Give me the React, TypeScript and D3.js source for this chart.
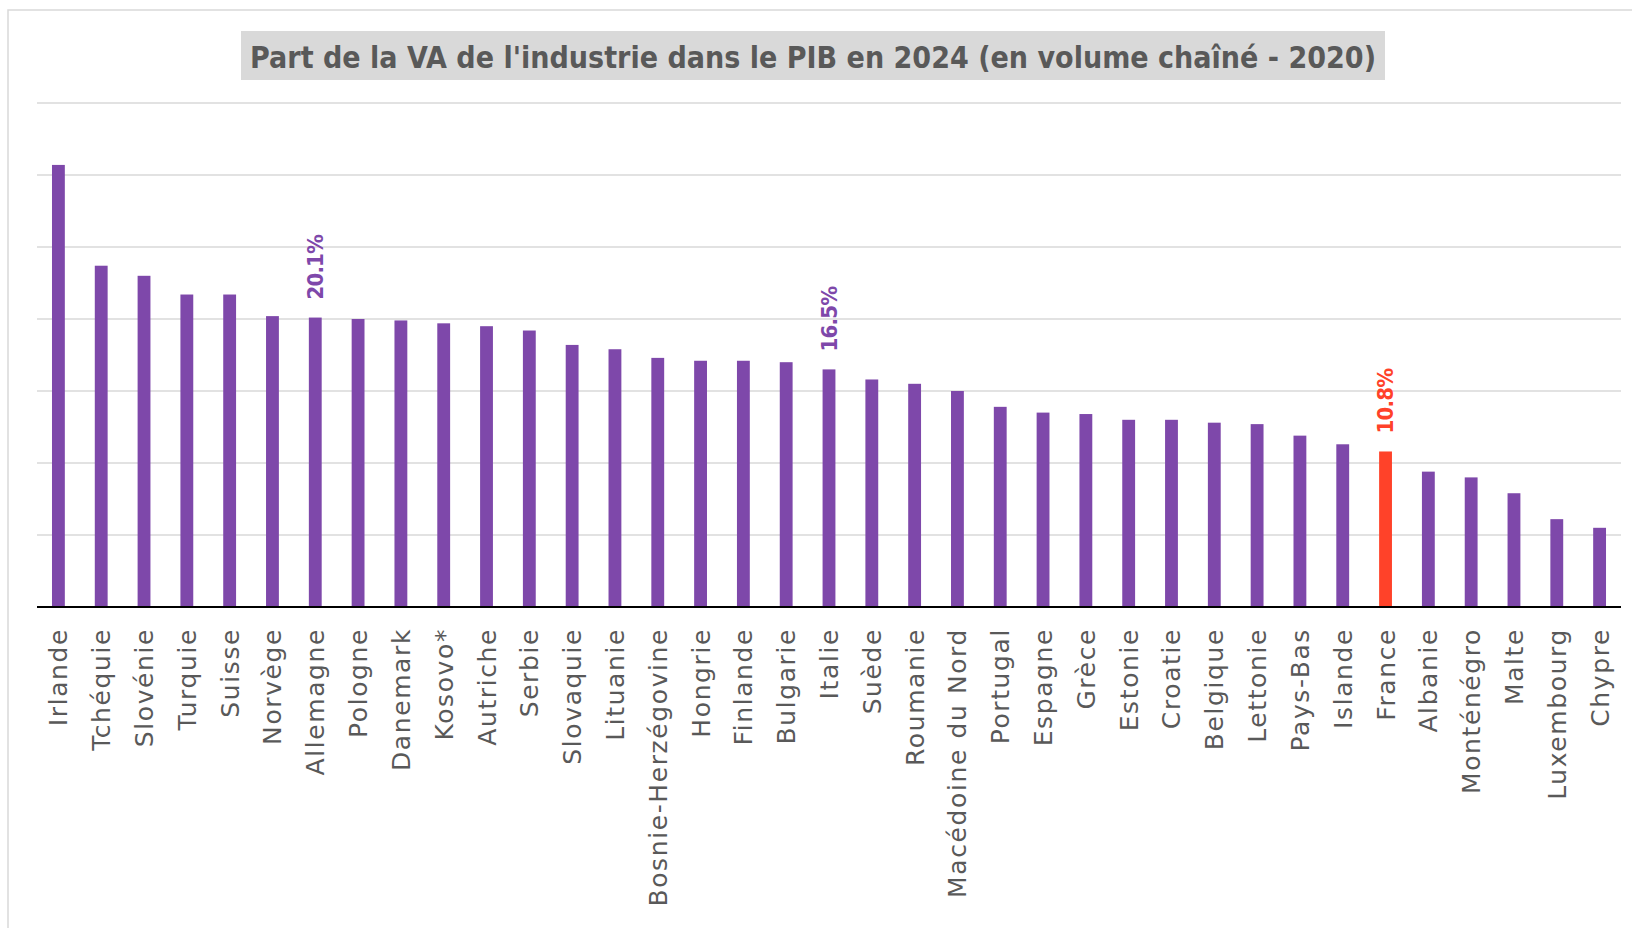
import React, { useEffect, useRef } from 'react';
import * as d3 from 'd3';

const countries = [
  'Irlande', 'Tchéquie', 'Slovénie', 'Turquie', 'Suisse', 'Norvège', 'Allemagne',
  'Pologne', 'Danemark', 'Kosovo*', 'Autriche', 'Serbie', 'Slovaquie', 'Lituanie',
  'Bosnie-Herzégovine', 'Hongrie', 'Finlande', 'Bulgarie', 'Italie', 'Suède',
  'Roumanie', 'Macédoine du Nord', 'Portugal', 'Espagne', 'Grèce', 'Estonie',
  'Croatie', 'Belgique', 'Lettonie', 'Pays-Bas', 'Islande', 'France', 'Albanie',
  'Monténégro', 'Malte', 'Luxembourg', 'Chypre',
];

const shares = [
  30.7, 23.7, 23.0, 21.7, 21.7, 20.2, 20.1,
  20.0, 19.9, 19.7, 19.5, 19.2, 18.2, 17.9,
  17.3, 17.1, 17.1, 17.0, 16.5, 15.8,
  15.5, 15.0, 13.9, 13.5, 13.4, 13.0,
  13.0, 12.8, 12.7, 11.9, 11.3, 10.8, 9.4,
  9.0, 7.9, 6.1, 5.5,
];

// countries whose value is written above the bar
const labelled = ['Allemagne', 'Italie', 'France'];
const highlight = 'France';

const yTicks = [0, 5, 10, 15, 20, 25, 30, 35];

const title = "Part de la VA de l'industrie dans le PIB en 2024 (en volume chaîné - 2020)";

const W = 1632;
const H = 928;
const PURPLE = '#7E48AA';
const RED = '#FF4229';
const GREY = '#595959';
const GRID = '#D9D9D9';
const FONT = "'DejaVu Sans', sans-serif";

export default function App() {
  const svgRef = useRef<SVGSVGElement>(null);

  useEffect(() => {
    const svg = d3.select(svgRef.current);
    svg.selectAll('*').remove();

    const margin = { top: 103, right: 11, bottom: 321, left: 37 };
    const innerWidth = W - margin.left - margin.right;
    const innerHeight = H - margin.top - margin.bottom;

    svg.append('rect')
      .attr('width', W).attr('height', H).attr('fill', 'white');

    // chart frame (runs off the right and bottom edges)
    svg.append('rect')
      .attr('x', 8).attr('y', 10)
      .attr('width', W + 20).attr('height', H + 20)
      .attr('fill', 'white')
      .attr('stroke', GRID)
      .attr('stroke-width', 1.5);

    // title
    const titleBox = { x: 241, y: 31, w: 1144, h: 49 };
    svg.append('rect')
      .attr('x', titleBox.x).attr('y', titleBox.y)
      .attr('width', titleBox.w).attr('height', titleBox.h)
      .attr('fill', GRID);
    svg.append('text')
      .attr('x', titleBox.x + titleBox.w / 2)
      .attr('y', 68)
      .attr('text-anchor', 'middle')
      .attr('textLength', 1126)
      .attr('lengthAdjust', 'spacingAndGlyphs')
      .style('font-family', FONT)
      .style('font-size', '31px')
      .style('font-weight', 'bold')
      .style('fill', GREY)
      .text(title);

    const g = svg.append('g')
      .attr('transform', `translate(${margin.left},${margin.top})`);

    const x = d3.scaleBand()
      .domain(countries)
      .range([0, innerWidth])
      .paddingInner(0.7)
      .paddingOuter(0.35);

    const y = d3.scaleLinear()
      .domain([0, 35])
      .range([innerHeight, 0]);

    // gridlines
    g.append('g')
      .selectAll('line')
      .data(yTicks.filter(t => t > 0))
      .enter()
      .append('line')
      .attr('x1', 0).attr('x2', innerWidth)
      .attr('y1', d => y(d)).attr('y2', d => y(d))
      .attr('stroke', GRID)
      .attr('stroke-width', 1.5);

    const data = countries.map((c, i) => ({ c, v: shares[i] }));

    // bars
    g.selectAll('.bar')
      .data(data)
      .enter()
      .append('rect')
      .attr('class', 'bar')
      .attr('x', d => x(d.c)!)
      .attr('y', d => y(d.v))
      .attr('width', x.bandwidth())
      .attr('height', d => innerHeight - y(d.v))
      .attr('fill', d => (d.c === highlight ? RED : PURPLE));

    // baseline
    g.append('line')
      .attr('x1', 0).attr('x2', innerWidth)
      .attr('y1', innerHeight).attr('y2', innerHeight)
      .attr('stroke', '#000')
      .attr('stroke-width', 2);

    // value labels
    g.selectAll('.val')
      .data(data.filter(d => labelled.includes(d.c)))
      .enter()
      .append('text')
      .attr('class', 'val')
      .attr('transform', d => `translate(${x(d.c)! + x.bandwidth() / 2},${y(d.v) - 18}) rotate(-90)`)
      .attr('dy', '0.36em')
      .style('font-family', "'DejaVu Sans Condensed', 'DejaVu Sans', sans-serif")
      .style('font-size', '22px')
      .style('letter-spacing', '-0.8px')
      .style('font-weight', 'bold')
      .style('fill', d => (d.c === highlight ? RED : PURPLE))
      .text(d => `${d.v.toFixed(1)}%`);

    // category labels
    g.selectAll('.cat')
      .data(countries)
      .enter()
      .append('text')
      .attr('class', 'cat')
      .attr('transform', d => `translate(${x(d)! + x.bandwidth() / 2},${innerHeight + 21}) rotate(-90)`)
      .attr('dy', '0.36em')
      .attr('text-anchor', 'end')
      .style('font-family', FONT)
      .style('font-size', '25px')
      .style('letter-spacing', '1.6px')
      .style('fill', GREY)
      .text(d => d);
  }, []);

  return (
    <div style={{ position: 'absolute', left: 0, top: 0 }}>
      <svg ref={svgRef} width={W} height={H} style={{ display: 'block' }}></svg>
    </div>
  );
}
